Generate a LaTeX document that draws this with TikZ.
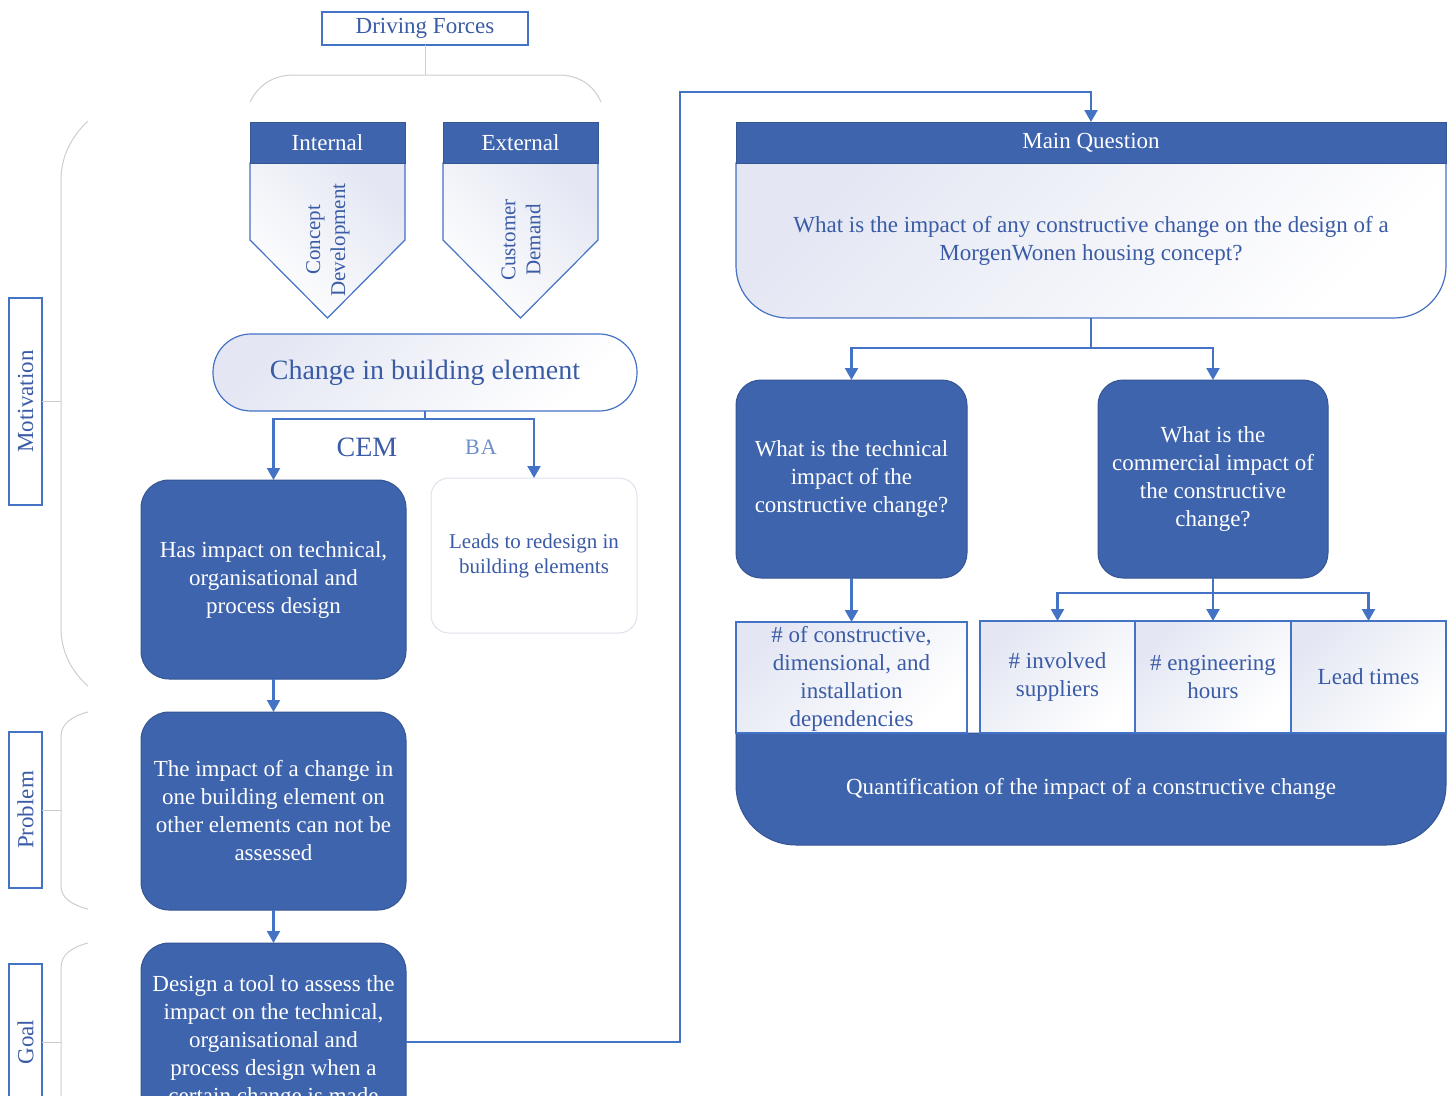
\documentclass[tikz,border=0pt]{standalone}
\usepackage{fontspec}
\setmainfont{Liberation Serif}
\usetikzlibrary{arrows.meta,calc}

\definecolor{navy}{HTML}{3E64AD}
\definecolor{wire}{HTML}{4472C4}
\definecolor{ink}{HTML}{3A5BA5}
\definecolor{lav}{HTML}{E4E7F3}
\definecolor{bracegray}{HTML}{CDCDCD}
\definecolor{pale}{HTML}{6E8FCB}
\definecolor{softline}{HTML}{DDE2EC}

\tikzset{
  txt/.style={font=\fontsize{23}{28}\selectfont, align=center},
  darkbox/.style={txt, fill=navy, draw=navy!85!black, line width=1pt,
    rounded corners=28pt, text=white, inner sep=0pt, outer sep=0pt},
  header/.style={txt, fill=navy, draw=navy!85!black, line width=1pt,
    text=white, inner sep=0pt, outer sep=0pt},
  lightfill/.style={top color=lav, bottom color=white, shading angle=45},
  lightbox/.style={txt, lightfill, draw=wire, line width=1.2pt, text=ink,
    inner sep=0pt, outer sep=0pt},
  tagbox/.style={txt, draw=wire, line width=1.2pt, fill=white, text=ink,
    inner sep=0pt, outer sep=0pt},
  wireline/.style={draw=wire, line width=2.2pt},
  flow/.style={wireline, -{Triangle[width=13pt,length=12pt]}},
  bracket/.style={draw=bracegray, line width=1pt},
}

\begin{document}
\begin{tikzpicture}[x=1pt,y=-1pt]
\useasboundingbox (0,0) rectangle (1456,1095);
\begin{scope}
\clip (0,0) rectangle (1456,1095);

% ---------- side labels with their brackets ----------
\node[tagbox, rotate=90, minimum width=207pt, minimum height=33pt] (mot) at (25.5,401.5) {Motivation};
\node[tagbox, rotate=90, minimum width=156pt, minimum height=33pt] (prob) at (25.5,810) {Problem};
\node[tagbox, rotate=90, minimum width=156pt, minimum height=33pt] (goaltag) at (25.5,1042) {Goal};

\coordinate (motb) at (61,401.5);
\coordinate (probb) at (61,810);
\coordinate (goalb) at (61,1042);

\draw[bracket] (88,121) .. controls (72,136) and (61,156) .. (61,180)
  -- (61,628) .. controls (61,652) and (72,672) .. (88,686);
\draw[bracket] (88,712) .. controls (72,716) and (61,724) .. (61,736)
  -- (61,886) .. controls (61,898) and (72,905) .. (88,909);
\draw[bracket] (88,943) .. controls (72,947) and (61,955) .. (61,967)
  -- (61,1100);
\draw[bracket] (mot.south) -- (motb);
\draw[bracket] (prob.south) -- (probb);
\draw[bracket] (goaltag.south) -- (goalb);

% ---------- driving forces ----------
\node[tagbox, minimum width=206pt, minimum height=33pt] (df) at (425,28.5) {Driving Forces};
\coordinate (dfb) at (425,75);
\draw[bracket] (df.south) -- (dfb);
\draw[bracket] (250,102) .. controls (258,86) and (272,75) .. (294,75)
  -- (558,75) .. controls (580,75) and (594,86) .. (601,102);

% internal
\path[lightfill, shading angle=-45, draw=wire, line width=1.2pt]
  (250,163) -- (405,163) -- (405,240) -- (327.5,318) -- (250,240) -- cycle;
\node[header, minimum width=155pt, minimum height=41pt] (int) at (327.5,142.5) {Internal};
\node[txt, text=ink, rotate=90, font=\fontsize{21}{25}\selectfont] (intbody) at (328,240) {Concept\\Development};

% external
\path[lightfill, shading angle=-45, draw=wire, line width=1.2pt]
  (443,163) -- (598,163) -- (598,240) -- (520.5,318) -- (443,240) -- cycle;
\node[header, minimum width=155pt, minimum height=41pt] (ext) at (520.5,142.5) {External};
\node[txt, text=ink, rotate=90, font=\fontsize{21}{25}\selectfont] (extbody) at (521,240) {Customer\\Demand};

% ---------- left column ----------
\node[lightbox, rounded corners=38pt, minimum width=424pt, minimum height=77pt,
  font=\fontsize{28}{32}\selectfont] (chg) at (425,372.5) {Change in building element};

\node[darkbox, minimum width=265pt, minimum height=199pt] (has) at (273.5,579.5)
  {Has impact on technical,\\organisational and\\process design};
\node[txt, draw=softline, line width=1pt, fill=white, rounded corners=18pt, text=ink,
  minimum width=206pt, minimum height=155pt, inner sep=0pt, outer sep=0pt,
  font=\fontsize{21}{25}\selectfont] (leads) at (534,555.5)
  {Leads to redesign in\\building elements};

\node[text=ink, font=\fontsize{28}{30}\selectfont] (cem) at (367,447) {CEM};
\node[text=pale, font=\fontsize{22}{24}\selectfont] (ba) at (481,447) {B\kern1ptA};

\node[darkbox, minimum width=265pt, minimum height=198pt] (prb) at (273.5,811)
  {The impact of a change in\\one building element on\\other elements can not be\\assessed};
\node[darkbox, minimum width=265pt, minimum height=198pt] (goal) at (273.5,1042)
  {Design a tool to assess the\\impact on the technical,\\organisational and\\process design when a\\certain change is made};

\coordinate (split1) at (425,419);
\draw[wireline] (chg.south) -- (split1);
\draw[flow] (split1) -| (has.north);
\draw[flow] (split1) -| (leads.north);
\draw[flow] (has.south) -- (prb.north);
\draw[flow] (prb.south) -- (goal.north);

% ---------- main question ----------
\path[lightfill, draw=wire, line width=1.2pt]
  (736,163) -- (1446,163) -- (1446,266) arc (0:90:52) -- (788,318) arc (90:180:52) -- cycle;
\node[header, minimum width=710pt, minimum height=41pt] (mqh) at (1091,142.5) {Main Question};
\node[txt, text=ink, minimum width=710pt, minimum height=155pt, inner sep=0pt, outer sep=0pt] (mqb) at (1091,240.5)
  {What is the impact of any constructive change on the design of a\\MorgenWonen housing concept?};

\coordinate (upturn) at (680,92);
\draw[flow] (goal.east) -| (upturn) -| (mqh.north);

\node[darkbox, rounded corners=25pt, minimum width=231pt, minimum height=198pt] (tech) at (851.5,479)
  {What is the technical\\impact of the\\constructive change?};
\node[darkbox, rounded corners=25pt, minimum width=230pt, minimum height=198pt] (comm) at (1213,479)
  {What is the\\commercial impact of\\the constructive\\change?};

\coordinate (split2) at (1091,348);
\draw[wireline] (mqb.south) -- (split2);
\draw[flow] (split2) -| (tech.north);
\draw[flow] (split2) -| (comm.north);

% ---------- quantification ----------
\path[fill=navy, draw=navy!85!black, line width=1pt]
  (736,733) -- (1446,733) -- (1446,785) arc (0:90:60) -- (796,845) arc (90:180:60) -- cycle;
\node[txt, text=white, minimum width=710pt, minimum height=112pt, inner sep=0pt] (quant) at (1091,789)
  {Quantification of the impact of a constructive change};

\node[lightbox, minimum width=231pt, minimum height=111pt] (m1) at (851.5,677.5) {};
\node[lightbox, minimum width=155pt, minimum height=112pt] (m2) at (1057.5,677) {\#~involved\\suppliers};
\node[lightbox, minimum width=156pt, minimum height=112pt] (m3) at (1213,677) {\#~engineering\\hours};
\node[lightbox, minimum width=155pt, minimum height=112pt] (m4) at (1368.5,677) {Lead times};
\node[txt, text=ink] (m1txt) at (851.5,679) {\#~of constructive,\\dimensional, and\\installation\\dependencies};

\draw[flow] (tech.south) -- (m1.north);
\coordinate (split3) at (1213,593);
\draw[wireline] (comm.south) -- (split3);
\draw[flow] (split3) -| (m2.north);
\draw[flow] (split3) -- (m3.north);
\draw[flow] (split3) -| (m4.north);
\end{scope}
\end{tikzpicture}
\end{document}
